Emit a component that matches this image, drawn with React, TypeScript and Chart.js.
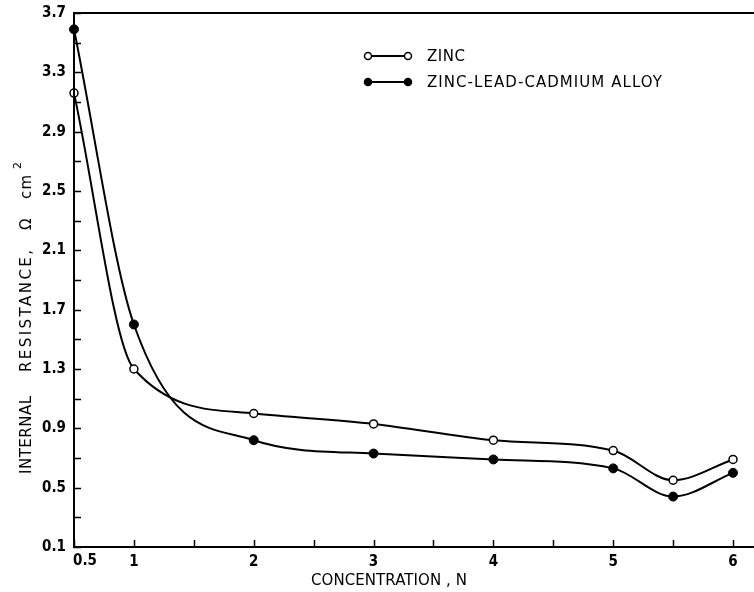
import React, { useEffect, useRef } from 'react';
import { Chart, registerables } from 'chart.js';

Chart.register(...registerables);

// ---- data ----
const concentration = [0.5, 1, 2, 3, 4, 5, 5.5, 6];
const zincValues = [3.16, 1.3, 1.0, 0.93, 0.82, 0.75, 0.55, 0.69];
const alloyValues = [3.59, 1.6, 0.82, 0.73, 0.69, 0.63, 0.44, 0.6];

const seriesNames = ['ZINC', 'ZINC-LEAD-CADMIUM ALLOY'];

const xTickValues = [0.5, 1, 1.5, 2, 2.5, 3, 3.5, 4, 4.5, 5, 5.5, 6];
const xTickLabels = ['0.5', '1', '2', '3', '4', '5', '6'];
const yTickValues = [0.1, 0.3, 0.5, 0.7, 0.9, 1.1, 1.3, 1.5, 1.7, 1.9, 2.1, 2.3, 2.5, 2.7, 2.9, 3.1, 3.3, 3.5, 3.7];
const yTickLabels = ['0.1', '0.5', '0.9', '1.3', '1.7', '2.1', '2.5', '2.9', '3.3', '3.7'];

const xTitle = 'CONCENTRATION , N';
const yTitleWords = ['INTERNAL', 'RESISTANCE,', '\u03A9', 'cm', '2'];

const FONT = '"DejaVu Sans Condensed", "DejaVu Sans", sans-serif';
const TEXT_FONT = '"DejaVu Sans", sans-serif';

const labelFor = (list: string[], v: number) => {
  const f = list.find((s) => Math.abs(Number(s) - v) < 1e-6);
  return f === undefined ? '' : f;
};

// draw text from `start` so that it spans about `width` px (letter spacing adjusts it)
function spacedText(ctx: any, text: string, start: number, width: number, y: number) {
  ctx.letterSpacing = '0px';
  const w = ctx.measureText(text).width;
  const n = Math.max(text.length - 1, 1);
  const s = Math.max(Math.min((width - w) / n, 4), -0.8);
  ctx.letterSpacing = `${s}px`;
  ctx.textAlign = 'left';
  ctx.fillText(text, start, y);
  ctx.letterSpacing = '0px';
}

const decorPlugin = {
  id: 'decor',
  afterDraw(chart: any) {
    const { ctx, chartArea, scales } = chart;
    const { left, right, top, bottom } = chartArea;
    ctx.save();
    ctx.strokeStyle = '#000';
    ctx.fillStyle = '#000';
    ctx.lineWidth = 2;
    // axes frame (left, bottom, top)
    ctx.beginPath();
    ctx.moveTo(right, top);
    ctx.lineTo(left, top);
    ctx.lineTo(left, bottom);
    ctx.lineTo(right, bottom);
    ctx.stroke();
    // inward ticks
    ctx.lineWidth = 1.5;
    ctx.beginPath();
    for (const v of yTickValues) {
      const y = Math.round(scales.y.getPixelForValue(v)) + 0.5;
      ctx.moveTo(left, y);
      ctx.lineTo(left + 7, y);
    }
    for (const v of xTickValues) {
      const x = Math.round(scales.x.getPixelForValue(v)) + 0.5;
      ctx.moveTo(x, bottom);
      ctx.lineTo(x, bottom - 7);
    }
    ctx.stroke();

    // first x tick label sits right of its tick in the original
    ctx.font = `bold 15px ${FONT}`;
    ctx.textBaseline = 'middle';
    ctx.textAlign = 'center';
    ctx.fillText(xTickLabels[0], scales.x.getPixelForValue(0.5) + 11, 561);

    // axis titles
    ctx.font = `15px ${TEXT_FONT}`;
    ctx.textBaseline = 'middle';
    spacedText(ctx, xTitle, 311, 156, 581);

    ctx.save();
    ctx.translate(27, 0);
    ctx.rotate(-Math.PI / 2);
    // rotated frame: x = -pageY
    spacedText(ctx, yTitleWords[0], -474, 78, 0);
    spacedText(ctx, yTitleWords[1], -372, 122, 0);
    ctx.textAlign = 'left';
    ctx.fillText(yTitleWords[2], -230, 0);
    spacedText(ctx, yTitleWords[3], -199, 24, 0);
    ctx.font = `11px ${TEXT_FONT}`;
    ctx.fillText(yTitleWords[4], -169, -9);
    ctx.restore();

    // legend
    const rows = [
      { y: 56, fill: '#fff', name: seriesNames[0], w: 38 },
      { y: 82, fill: '#000', name: seriesNames[1], w: 235 },
    ];
    ctx.font = `15px ${TEXT_FONT}`;
    for (const r of rows) {
      ctx.lineWidth = 2;
      ctx.beginPath();
      ctx.moveTo(368, r.y);
      ctx.lineTo(408, r.y);
      ctx.stroke();
      for (const cx of [368, 408]) {
        ctx.beginPath();
        ctx.arc(cx, r.y, 3.5, 0, Math.PI * 2);
        ctx.fillStyle = r.fill;
        ctx.fill();
        ctx.lineWidth = 1.5;
        ctx.stroke();
      }
      ctx.fillStyle = '#000';
      spacedText(ctx, r.name, 427, r.w, r.y + 1);
    }
    ctx.restore();
  },
};

export default function App() {
  const ref = useRef<HTMLCanvasElement | null>(null);

  useEffect(() => {
    document.body.style.margin = '0';
    const canvas = ref.current;
    if (!canvas) return;
    const chart = new Chart(canvas, {
      type: 'line',
      data: {
        datasets: [
          {
            label: seriesNames[0],
            data: concentration.map((x, i) => ({ x, y: zincValues[i] })),
            borderColor: '#000',
            borderWidth: 2,
            backgroundColor: '#fff',
            pointBackgroundColor: '#fff',
            pointBorderColor: '#000',
            pointBorderWidth: 1.5,
            pointRadius: 4,
            cubicInterpolationMode: 'monotone',
            clip: false,
          },
          {
            label: seriesNames[1],
            data: concentration.map((x, i) => ({ x, y: alloyValues[i] })),
            borderColor: '#000',
            borderWidth: 2,
            backgroundColor: '#000',
            pointBackgroundColor: '#000',
            pointBorderColor: '#000',
            pointBorderWidth: 1,
            pointRadius: 4.5,
            cubicInterpolationMode: 'monotone',
            clip: false,
          },
        ],
      },
      options: {
        responsive: false,
        animation: false,
        layout: { autoPadding: false, padding: { top: 13, right: 0, left: 0, bottom: 0 } },
        plugins: {
          legend: { display: false },
          tooltip: { enabled: false },
        },
        scales: {
          x: {
            type: 'linear',
            min: 0.5,
            max: 6.175,
            afterBuildTicks: (scale: any) => {
              scale.ticks = xTickValues.map((v) => ({ value: v }));
            },
            afterFit: (scale: any) => {
              scale.height = 45;
              scale.paddingLeft = 0;
              scale.paddingRight = 0;
            },
            ticks: {
              autoSkip: false,
              maxRotation: 0,
              padding: 6,
              color: '#000',
              font: { family: FONT, size: 15, weight: 'bold' },
              callback: (v: any) => (Number(v) === 0.5 ? '' : labelFor(xTickLabels, Number(v))),
            },
            grid: { display: false, drawTicks: false },
            border: { display: false },
          },
          y: {
            type: 'linear',
            min: 0.1,
            max: 3.7,
            afterBuildTicks: (scale: any) => {
              scale.ticks = yTickValues.map((v) => ({ value: v }));
            },
            afterFit: (scale: any) => {
              scale.width = 74;
              scale.paddingTop = 0;
              scale.paddingBottom = 0;
            },
            ticks: {
              autoSkip: false,
              padding: 8,
              color: '#000',
              font: { family: FONT, size: 15, weight: 'bold' },
              callback: (v: any) => labelFor(yTickLabels, Number(v)),
            },
            grid: { display: false, drawTicks: false },
            border: { display: false },
          },
        },
      },
      plugins: [decorPlugin],
    } as any);
    return () => chart.destroy();
  }, []);

  return (
    <div style={{ width: 754, height: 592, background: '#fff' }}>
      <canvas ref={ref} width={754} height={592} />
    </div>
  );
}
